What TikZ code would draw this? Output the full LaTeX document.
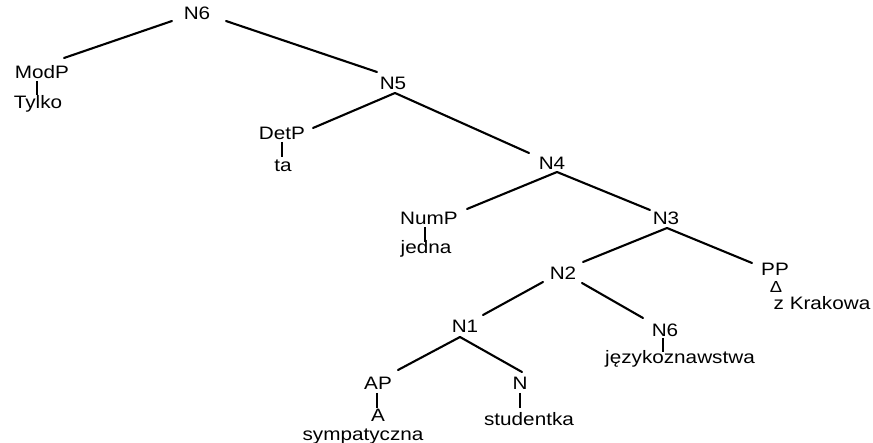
\documentclass[tikz,border=0pt]{standalone}
\usepackage{fontspec}
\setmainfont{Liberation Sans}[FakeStretch=1.15]
\begin{document}
\begin{tikzpicture}[x=1pt,y=-1pt,
  lbl/.style={anchor=base,inner sep=0pt,font=\fontsize{18}{21}\selectfont},
  branch/.style={line width=2.1pt,line cap=round},
  tick/.style={line width=1.8pt}]
\useasboundingbox (0,0) rectangle (873,443);
\fill[white] (0,0) rectangle (873,443);

% labels of the tree, placed at their baselines
\node[lbl] (n6)    at (197,20)  {N6};
\node[lbl] (modp)  at (42,79)   {ModP};
\node[lbl] (tylko) at (38,109)  {Tylko};
\node[lbl] (n5)    at (393,90)  {N5};
\node[lbl] (detp)  at (282,140) {DetP};
\node[lbl] (ta)    at (283,172) {ta};
\node[lbl] (n4)    at (552,170) {N4};
\node[lbl] (nump)  at (429,225) {NumP};
\node[lbl] (jedna) at (426,254) {jedna};
\node[lbl] (n3)    at (666,225) {N3};
\node[lbl] (n2)    at (563,280) {N2};
\node[lbl] (pp)    at (775,276) {PP};
\node[lbl,font=\fontsize{16}{18}\selectfont] (delta) at (776,293) {Δ};
\node[lbl] (zkr)   at (822,310) {z Krakowa};
\node[lbl] (n6b)   at (665,337) {N6};
\node[lbl] (jez)   at (680,364) {językoznawstwa};
\node[lbl] (n1)    at (465,333) {N1};
\node[lbl] (ap)    at (378,390) {AP};
\node[lbl] (a)     at (378,422) {A};
\node[lbl] (symp)  at (363,440) {sympatyczna};
\node[lbl] (nn)    at (520,390) {N};
\node[lbl] (stud)  at (529,425) {studentka};

% branches
\draw[branch] ([shift={(-25,1)}]n6.base) -- ([shift={(22,-21)}]modp.base);
\draw[branch] ([shift={(29,1)}]n6.base) -- ([shift={(-16,-18)}]n5.base);
\draw[branch] ([shift={(2,3)}]n5.base) -- ([shift={(31,-12)}]detp.base);
\draw[branch] ([shift={(2,3)}]n5.base) -- ([shift={(-23,-17)}]n4.base);
\draw[branch] ([shift={(5,2)}]n4.base) -- ([shift={(38,-16)}]nump.base);
\draw[branch] ([shift={(5,2)}]n4.base) -- ([shift={(-16,-15)}]n3.base);
\draw[branch] ([shift={(1,3)}]n3.base) -- ([shift={(20,-18)}]n2.base);
\draw[branch] ([shift={(1,3)}]n3.base) -- ([shift={(-23,-13)}]pp.base);
\draw[branch] ([shift={(-20,2)}]n2.base) -- ([shift={(18,-18)}]n1.base);
\draw[branch] ([shift={(19,3)}]n2.base) -- ([shift={(-22,-19)}]n6b.base);
\draw[branch] ([shift={(-5,4)}]n1.base) -- ([shift={(20,-20)}]ap.base);
\draw[branch] ([shift={(-5,4)}]n1.base) -- ([shift={(2,-18)}]nn.base);

% short vertical links to the words
\draw[tick] ([shift={(-5,2)}]modp.base) -- ([shift={(-1,-14)}]tylko.base);
\draw[tick] ([shift={(0,2)}]detp.base) -- ([shift={(-1,-15)}]ta.base);
\draw[tick] ([shift={(-4,2)}]nump.base) -- ([shift={(-1,-12)}]jedna.base);
\draw[tick] ([shift={(-2,1)}]n6b.base) -- ([shift={(-17,-12)}]jez.base);
\draw[tick] ([shift={(-1,3)}]ap.base) -- ([shift={(-1,-14)}]a.base);
\draw[tick] ([shift={(0,3)}]nn.base) -- ([shift={(-9,-17)}]stud.base);
\end{tikzpicture}
\end{document}
